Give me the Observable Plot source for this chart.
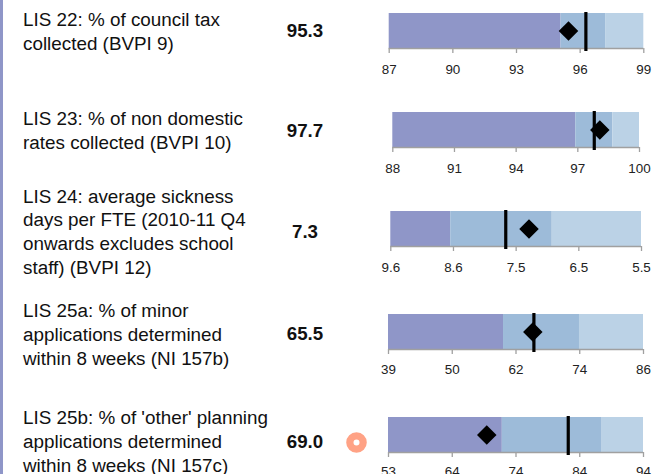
<!DOCTYPE html>
<html>
<head>
<meta charset="utf-8">
<script src="https://cdn.jsdelivr.net/npm/d3@7"></script>
<script src="https://cdn.jsdelivr.net/npm/@observablehq/plot@0.6"></script>
<style>
html,body{margin:0;padding:0;background:#fff;}
#chart{position:relative;width:652px;height:474px;overflow:hidden;background:#fff;font-family:"Liberation Sans",Arial,sans-serif;color:#111;}
#chart svg{position:absolute;background:transparent;}
.lbl{position:absolute;left:23px;font-size:18.85px;line-height:23.8px;white-space:nowrap;}
.val{position:absolute;left:265px;width:80px;text-align:center;font-weight:bold;font-size:18.7px;line-height:24px;}
#edge{position:absolute;left:0;top:0;width:2.5px;height:474px;background:#8f96c8;}
</style>
</head>
<body>
<div id="chart"><div id="edge"></div></div>
<script>
const names = [
  ["LIS 22: % of council tax", "collected (BVPI 9)"],
  ["LIS 23: % of non domestic", "rates collected (BVPI 10)"],
  ["LIS 24: average sickness", "days per FTE (2010-11 Q4", "onwards excludes school", "staff) (BVPI 12)"],
  ["LIS 25a: % of minor", "applications determined", "within 8 weeks (NI 157b)"],
  ["LIS 25b: % of 'other' planning", "applications determined", "within 8 weeks (NI 157c)"]
];
const shown = ["95.3", "97.7", "7.3", "65.5", "69.0"];
const domainStart = [87, 88, 9.6, 39, 53];
const domainEnd = [99, 100, 5.5, 86, 94];
const band1End = [95.1, 96.9, 8.62, 60.2, 71.3];
const band2End = [97.2, 98.7, 6.96, 74.2, 87.25];
const targets = [96.27, 97.8, 7.72, 65.8, 81.9];
const actuals = [95.45, 98.07, 7.34, 65.6, 68.8];
const tickLabels = [
  ["87", "90", "93", "96", "99"],
  ["88", "91", "94", "97", "100"],
  ["9.6", "8.6", "7.5", "6.5", "5.5"],
  ["39", "50", "62", "74", "86"],
  ["53", "64", "74", "84", "94"]
];
const bandColors = ["#8f96c8", "#9dbbd9", "#bbd2e6"];

// layout of each row on the page
const plotLeft = [388.7, 392.3, 390.3, 388, 388];
const plotRight = [643.3, 639, 641, 643, 643];
const bandTop = [13, 112, 211, 314, 417];
const bandHeight = 35;
const tickPad = [11, 11, 11, 10, 9];
const labelTop = [8, 107, 184.5, 299, 406];
const valueCenter = [31, 131, 232, 334, 442];

const chart = document.getElementById("chart");

names.forEach((lines, i) => {
  const lo = domainStart[i], hi = domainEnd[i];
  const tickValues = tickLabels[i].map((_, k) => lo + k * (hi - lo) / 4);
  const marginTop = 5, marginBottom = 40;
  const svg = Plot.plot({
    width: 652,
    height: marginTop + bandHeight + marginBottom,
    marginLeft: plotLeft[i],
    marginRight: 652 - plotRight[i],
    marginTop,
    marginBottom,
    style: {fontFamily: '"Liberation Sans",Arial,sans-serif', fontSize: "13.4px", background: "transparent", overflow: "visible"},
    x: {domain: [lo, hi]},
    y: {domain: [0, 1], axis: null},
    marks: [
      Plot.rectX([0], {x1: lo, x2: band1End[i], fill: bandColors[0]}),
      Plot.rectX([0], {x1: band1End[i], x2: band2End[i], fill: bandColors[1]}),
      Plot.rectX([0], {x1: band2End[i], x2: hi, fill: bandColors[2]}),
      Plot.axisX({
        ticks: tickValues,
        tickFormat: (d) => tickLabels[i][tickValues.indexOf(d)],
        tickSize: 5,
        tickPadding: tickPad[i],
        stroke: "#a0a0a0",
        strokeWidth: 1.3,
        color: "#222",
        fill: "#222",
        label: null
      }),
      Plot.ruleY([0], {stroke: "#a0a0a0", strokeWidth: 1.5}),
      Plot.ruleX([targets[i]], {stroke: "#000", strokeWidth: 3.2, insetTop: -1, insetBottom: -3}),
      Plot.dot([actuals[i]], {x: (d) => d, frameAnchor: "middle", symbol: "diamond2", r: 8.8, fill: "#000", stroke: "none"})
    ]
  });
  svg.style.left = "0px";
  svg.style.top = (bandTop[i] - marginTop) + "px";
  chart.appendChild(svg);

  const lbl = document.createElement("div");
  lbl.className = "lbl";
  lbl.style.top = labelTop[i] + "px";
  lbl.innerHTML = lines.join("<br>");
  chart.appendChild(lbl);

  const val = document.createElement("div");
  val.className = "val";
  val.style.top = (valueCenter[i] - 12) + "px";
  val.textContent = shown[i];
  chart.appendChild(val);
});

// status marker on the last row
const status = Plot.plot({
  width: 30, height: 30, margin: 0,
  x: {domain: [0, 1], axis: null}, y: {domain: [0, 1], axis: null},
  marks: [
    Plot.dot([0], {frameAnchor: "middle", r: 6.65, fill: "#fff", stroke: "#ffa285", strokeWidth: 7.3})
  ]
});
status.style.left = "340.5px";
status.style.top = "426.5px";
chart.appendChild(status);
</script>
</body>
</html>
